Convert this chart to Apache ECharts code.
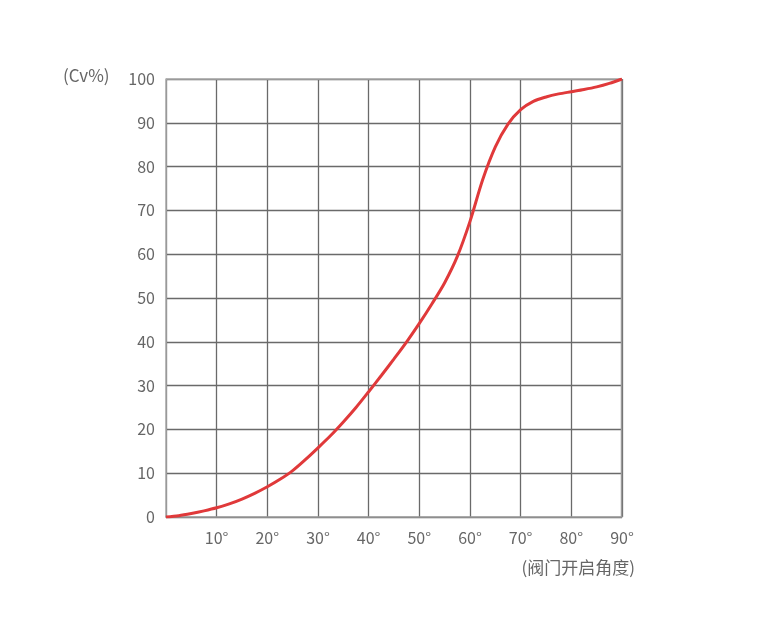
<!DOCTYPE html>
<html><head><meta charset="utf-8">
<script src="https://cdn.jsdelivr.net/npm/echarts@6/dist/echarts.min.js"></script>
<style>html,body{margin:0;padding:0;background:#fff}#c{width:772px;height:629px}</style>
</head><body><div id="c"></div>
<script>
const angles = [0, 2.5, 5, 7.5, 10, 12.5, 15, 17.5, 20, 22.5, 25, 27.5, 30, 32.5, 35, 37.5, 40, 42.5, 45, 47.5, 50, 52.5, 55, 57.5, 60, 62.5, 65, 67.5, 70, 72.5, 75, 77.5, 80, 82.5, 85, 87.5, 90];
const cvValues = [0, 0.3, 0.8, 1.4, 2.1, 3.0, 4.1, 5.4, 6.9, 8.6, 10.6, 13.1, 15.8, 18.6, 21.7, 25.0, 28.6, 32.3, 36.1, 40.0, 44.2, 48.7, 53.5, 59.5, 67.5, 77, 84.5, 89.7, 93, 94.9, 95.9, 96.6, 97.1, 97.6, 98.2, 99, 100];
const yAxisName = '(Cv%)';
const xAxisName = '(阀门开启角度)';
const FONT = '"Noto Sans CJK SC", "Noto Sans", sans-serif';
const chart = echarts.init(document.getElementById('c'));
chart.setOption({
  backgroundColor: '#fff',
  animation: false,
  grid: { left: 166, right: 150, top: 79, bottom: 112 },
  xAxis: {
    type: 'value', min: 0, max: 90, interval: 10,
    axisLine: { show: true, lineStyle: { color: '#9a9a9a', width: 1.5 } },
    axisTick: { show: false },
    axisLabel: { color: '#666', fontSize: 16, fontFamily: FONT, margin: 13,
      formatter: v => v === 0 ? '' : v + '°' },
    splitLine: { show: true, lineStyle: { color: '#6a6a6a', width: 1.3 } }
  },
  yAxis: {
    type: 'value', min: 0, max: 100, interval: 10,
    axisLine: { show: true, lineStyle: { color: '#aaa', width: 1.5 } },
    axisTick: { show: false },
    axisLabel: { color: '#666', fontSize: 16, fontFamily: FONT, margin: 11 },
    splitLine: { show: true, lineStyle: { color: '#6a6a6a', width: 1.3 } }
  },
  graphic: [
    { type: 'text', left: 63, top: 67, style: { text: yAxisName, fill: '#666', font: '17px ' + FONT } },
    { type: 'text', right: 137, top: 559, style: { text: xAxisName, fill: '#666', font: '17px ' + FONT } },
    { type: 'rect', shape: { x: 621.5, y: 79, width: 0, height: 438 }, style: { stroke: '#9a9a9a', lineWidth: 1.5 }, z: 1 },
    { type: 'rect', shape: { x: 166, y: 79, width: 456, height: 0 }, style: { stroke: '#aaa', lineWidth: 1.5 }, z: 1 }
  ],
  series: [{
    type: 'line', smooth: 0.3, showSymbol: false,
    data: angles.map((a, i) => [a, cvValues[i]]),
    lineStyle: { color: '#e0393a', width: 3 },
    z: 5
  }]
});
</script></body></html>
